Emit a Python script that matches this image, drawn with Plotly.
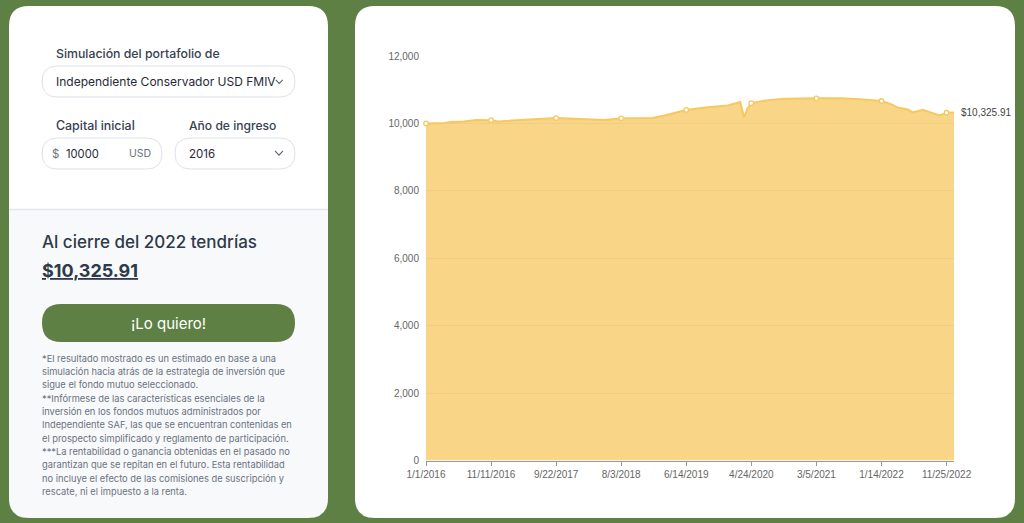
import plotly.graph_objects as go

# ---------- chart data ----------
dates = ["2016-01-01","2016-04-01","2016-05-01","2016-07-01","2016-09-01","2016-11-11","2016-12-15",
         "2017-03-15","2017-07-15","2017-09-22","2018-01-15","2018-05-15","2018-08-03","2019-01-01",
         "2019-03-01","2019-05-01","2019-06-14","2019-09-15","2020-01-01","2020-03-01","2020-03-20",
         "2020-04-05","2020-04-24","2020-07-01","2020-10-01","2021-03-05","2021-07-01","2021-10-01",
         "2022-01-14","2022-03-01","2022-04-01","2022-05-21","2022-06-14","2022-08-01","2022-10-23",
         "2022-11-25","2022-12-31"]
values = [10000,10015,10045,10060,10098,10095,10060,
          10090,10120,10157,10133,10104,10150,10163,
          10237,10326,10400,10474,10530,10636,10178,
          10444,10600,10681,10730,10745,10750,10720,
          10665,10570,10470,10415,10325,10405,10237,
          10317,10325.91]
tick_dates = ["2016-01-01","2016-11-11","2017-09-22","2018-08-03","2019-06-14",
              "2020-04-24","2021-03-05","2022-01-14","2022-11-25"]
tick_labels = ["1/1/2016","11/11/2016","9/22/2017","8/3/2018","6/14/2019",
               "4/24/2020","3/5/2021","1/14/2022","11/25/2022"]
y_ticks = [0,2000,4000,6000,8000,10000,12000]
end_label = "$10,325.91"

# ---------- panel text ----------
disclaimer = [
    "*El resultado mostrado es un estimado en base a una",
    "simulación hacia atrás de la estrategia de inversión que",
    "sigue el fondo mutuo seleccionado.",
    "**Infórmese de las características esenciales de la",
    "inversión en los fondos mutuos administrados por",
    "Independiente SAF, las que se encuentran contenidas en",
    "el prospecto simplificado y reglamento de participación.",
    "***La rentabilidad o ganancia obtenidas en el pasado no",
    "garantizan que se repitan en el futuro. Esta rentabilidad",
    "no incluye el efecto de las comisiones de suscripción y",
    "rescate, ni el impuesto a la renta.",
]

W, H = 1024, 523
GREEN = "#5f8045"
PANEL_FONT = "Inter"
CHART_FONT = "Liberation Sans"


def px(x):
    return x / W


def py(y):
    return 1 - y / H


def rrect(x0, y0, x1, y1, r, fill, line=None, lw=0, corners="tl tr br bl"):
    c = corners.split()
    rt = lambda k: r if k in c else 0
    a, b, d, e = rt("tl"), rt("tr"), rt("br"), rt("bl")
    P = lambda x, y: f"{px(x)} {py(y)}"
    path = f"M {P(x0 + a, y0)} L {P(x1 - b, y0)} Q {P(x1, y0)} {P(x1, y0 + b)} " \
           f"L {P(x1, y1 - d)} Q {P(x1, y1)} {P(x1 - d, y1)} " \
           f"L {P(x0 + e, y1)} Q {P(x0, y1)} {P(x0, y1 - e)} " \
           f"L {P(x0, y0 + a)} Q {P(x0, y0)} {P(x0 + a, y0)} Z"
    return dict(type="path", xref="paper", yref="paper", path=path, fillcolor=fill,
                line=dict(color=line or "rgba(0,0,0,0)", width=lw), layer="below")


def chevron(cx, cy, w=5, h=3):
    P = lambda x, y: f"{px(x)} {py(y)}"
    return dict(type="path", xref="paper", yref="paper",
                path=f"M {P(cx - w, cy - h)} L {P(cx, cy + h)} L {P(cx + w, cy - h)}",
                line=dict(color="#5b6472", width=1.1), layer="above")


def txt(x, y, text, size, color, weight=400, anchor="left", **font_extra):
    offset = 1 if anchor == "left" else 0
    return dict(xref="paper", yref="paper", x=px(x - offset), y=py(y), text=text, showarrow=False,
                xanchor=anchor, yanchor="middle", align=anchor, borderpad=0,
                font=dict(family=PANEL_FONT, size=size, color=color, weight=weight, **font_extra))


BORDER = "#dfe1ea"
shapes = [
    rrect(9, 6, 328, 209, 20, "#ffffff", corners="tl tr"),
    rrect(9, 209, 328, 518, 20, "#f7f9fb", corners="br bl"),
    dict(type="line", xref="paper", yref="paper", x0=px(9), x1=px(328), y0=py(209.5), y1=py(209.5),
         line=dict(color="#e3e6ec", width=1.5), layer="below"),
    rrect(355, 6, 1015, 518, 20, "#ffffff"),
    rrect(42, 66, 295, 97, 15.5, "#ffffff", BORDER, 1),
    rrect(42, 138, 162, 169, 15.5, "#ffffff", BORDER, 1),
    rrect(175, 138, 295, 169, 15.5, "#ffffff", BORDER, 1),
    rrect(42, 304, 295, 342, 19, GREEN),
    chevron(279, 153, 4, 2.2),
    chevron(279.3, 81.7, 3.5, 1.8),
]

annotations = [
    txt(56, 54, "Simulación del portafolio de", 12.3, "#374151", 500),
    txt(56, 81.5, "Independiente Conservador USD FMIV", 12, "#1f2937", 400),
    txt(56, 126, "Capital inicial", 12.4, "#374151", 500),
    txt(189, 126, "Año de ingreso", 12.1, "#374151", 500),
    txt(52, 153.5, "$", 11.5, "#6b7280", 400),
    txt(66, 153.5, "10000", 11.2, "#1f2937", 400),
    txt(129, 153.5, "USD", 10.5, "#6b7280", 400),
    txt(189, 153.5, "2016", 11.5, "#1f2937", 400),
    txt(42, 242, "Al cierre del 2022 tendrías", 17, "#2f3a4a", 500),
    txt(42, 270.5, end_label, 18, "#2f3a4a", 700, lineposition="under"),
    txt(168.5, 323, "¡Lo quiero!", 15, "#ffffff", 400, anchor="center"),
]
for i, line in enumerate(disclaimer):
    annotations.append(txt(42, 358.3 + i * 13.33, line, 9.3, "#6b7280", 400))

annotations.append(dict(xref="x", yref="y", x=dates[-1], y=values[-1], text=end_label, showarrow=False,
                        xanchor="left", yanchor="middle", xshift=5,
                        font=dict(family=CHART_FONT, size=10, color="#444444")))

tick_set = set(tick_dates)
marker_x = [d for d in dates if d in tick_set]
marker_y = [v for d, v in zip(dates, values) if d in tick_set]

fig = go.Figure()
fig.add_trace(go.Scatter(x=dates, y=values, mode="lines", fill="tozeroy",
                         fillcolor="rgba(245,190,70,0.65)",
                         line=dict(color="#f7c85f", width=2), hoverinfo="skip", showlegend=False))
fig.add_trace(go.Scatter(x=marker_x, y=marker_y, mode="markers", cliponaxis=False,
                         marker=dict(size=4.5, color="#ffffff", line=dict(color="#f7c85f", width=1.3)),
                         hoverinfo="skip", showlegend=False))

fig.update_layout(
    width=W, height=H, margin=dict(l=0, r=0, t=0, b=0, pad=0, autoexpand=False),
    paper_bgcolor=GREEN, plot_bgcolor="rgba(0,0,0,0)",
    font=dict(family=CHART_FONT, size=10, color="#666666"),
    shapes=shapes, annotations=annotations, showlegend=False,
    xaxis=dict(domain=[px(426), px(954)], type="date", range=["2016-01-01", "2022-12-31"],
               tickmode="array", tickvals=tick_dates, ticktext=tick_labels, showgrid=False,
               showline=True, linecolor="#999999", linewidth=1, ticks="outside", ticklen=4,
               tickcolor="#999999", tickfont=dict(size=10, color="#666666"), tickangle=0, zeroline=False,
               layer="above traces"),
    yaxis=dict(domain=[py(460.5), py(56)], range=[0, 12000], tickmode="array", tickvals=y_ticks,
               tickformat=",d", showgrid=True, gridcolor="#e6eaf2", gridwidth=1, zeroline=False,
               showline=False, ticks="", ticklabelstandoff=6, tickfont=dict(size=10, color="#666666")),
)

fig.write_html("out.html", config=dict(displayModeBar=False),
               post_script="document.body.style.margin='0';document.documentElement.style.overflow='hidden';")
